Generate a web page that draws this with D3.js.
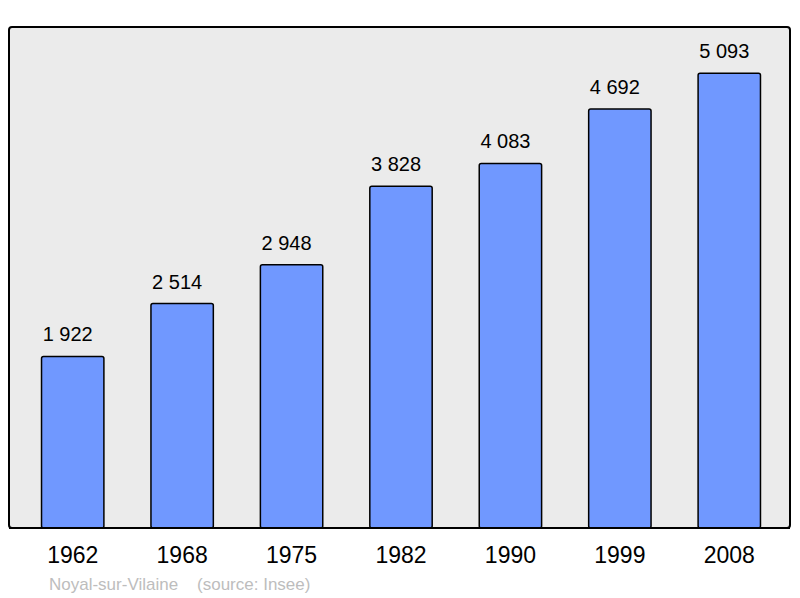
<!DOCTYPE html>
<html>
<head>
<meta charset="utf-8">
<script src="https://cdn.jsdelivr.net/npm/d3@7"></script>
<style>
  body { margin: 0; background: #fff; }
  text { font-family: "Liberation Sans", Arial, sans-serif; }
</style>
</head>
<body>
<div id="chart"></div>
<script>
const years = ["1962", "1968", "1975", "1982", "1990", "1999", "2008"]
const population = [1922, 2514, 2948, 3828, 4083, 4692, 5093]
const valueLabels = ["1 922", "2 514", "2 948", "3 828", "4 083", "4 692", "5 093"]
const footer = "Noyal-sur-Vilaine\u00a0\u00a0\u00a0\u00a0(source: Insee)"

const WIDTH = 800
const HEIGHT = 598

const data = years.map((y, i) => ({ year: y, value: population[i], label: valueLabels[i] }))

const svg = d3.select("#chart")
  .append("svg")
  .attr("width", WIDTH)
  .attr("height", HEIGHT)

// plot frame
svg.append("rect")
  .attr("x", 9)
  .attr("y", 27)
  .attr("width", 781)
  .attr("height", 501)
  .attr("rx", 3)
  .attr("fill", "#ebebeb")
  .attr("stroke", "#000")
  .attr("stroke-width", 2)

const x = d3.scaleBand()
  .domain(years)
  .range([18, 784])
  .paddingInner(0.43)
  .paddingOuter(0.215)

const y = d3.scaleLinear()
  .domain([0, 5600])
  .range([528, 28])

svg.selectAll("rect.bar")
  .data(data)
  .enter().append("rect")
  .attr("class", "bar")
  .attr("x", d => x(d.year))
  .attr("y", d => y(d.value))
  .attr("width", x.bandwidth())
  .attr("height", d => y(0) - y(d.value))
  .attr("rx", 2)
  .attr("fill", "#7098ff")
  .attr("stroke", "#000")
  .attr("stroke-width", 1.5)

// value labels above bars
svg.selectAll("text.value")
  .data(data)
  .enter().append("text")
  .attr("class", "value")
  .attr("x", d => x(d.year) + x.bandwidth() / 2 - 5)
  .attr("y", d => y(d.value) - 15)
  .attr("text-anchor", "middle")
  .attr("font-size", 20)
  .attr("fill", "#000")
  .text(d => d.label)

// bottom frame line redrawn over bar bottoms
svg.append("line")
  .attr("x1", 9).attr("x2", 790)
  .attr("y1", 528).attr("y2", 528)
  .attr("stroke", "#000")
  .attr("stroke-width", 2)

// year labels
const xAxis = svg.append("g")
  .attr("transform", "translate(0,528)")
  .call(d3.axisBottom(x).tickSize(0).tickPadding(19))
xAxis.select(".domain").remove()
xAxis.selectAll("text")
  .attr("font-size", 23)
  .attr("font-family", "Liberation Sans, Arial, sans-serif")
  .attr("fill", "#000")

svg.append("text")
  .attr("x", 49)
  .attr("y", 590)
  .attr("font-size", 17)
  .attr("fill", "#bdbdbd")
  .text(footer)
</script>
</body>
</html>
